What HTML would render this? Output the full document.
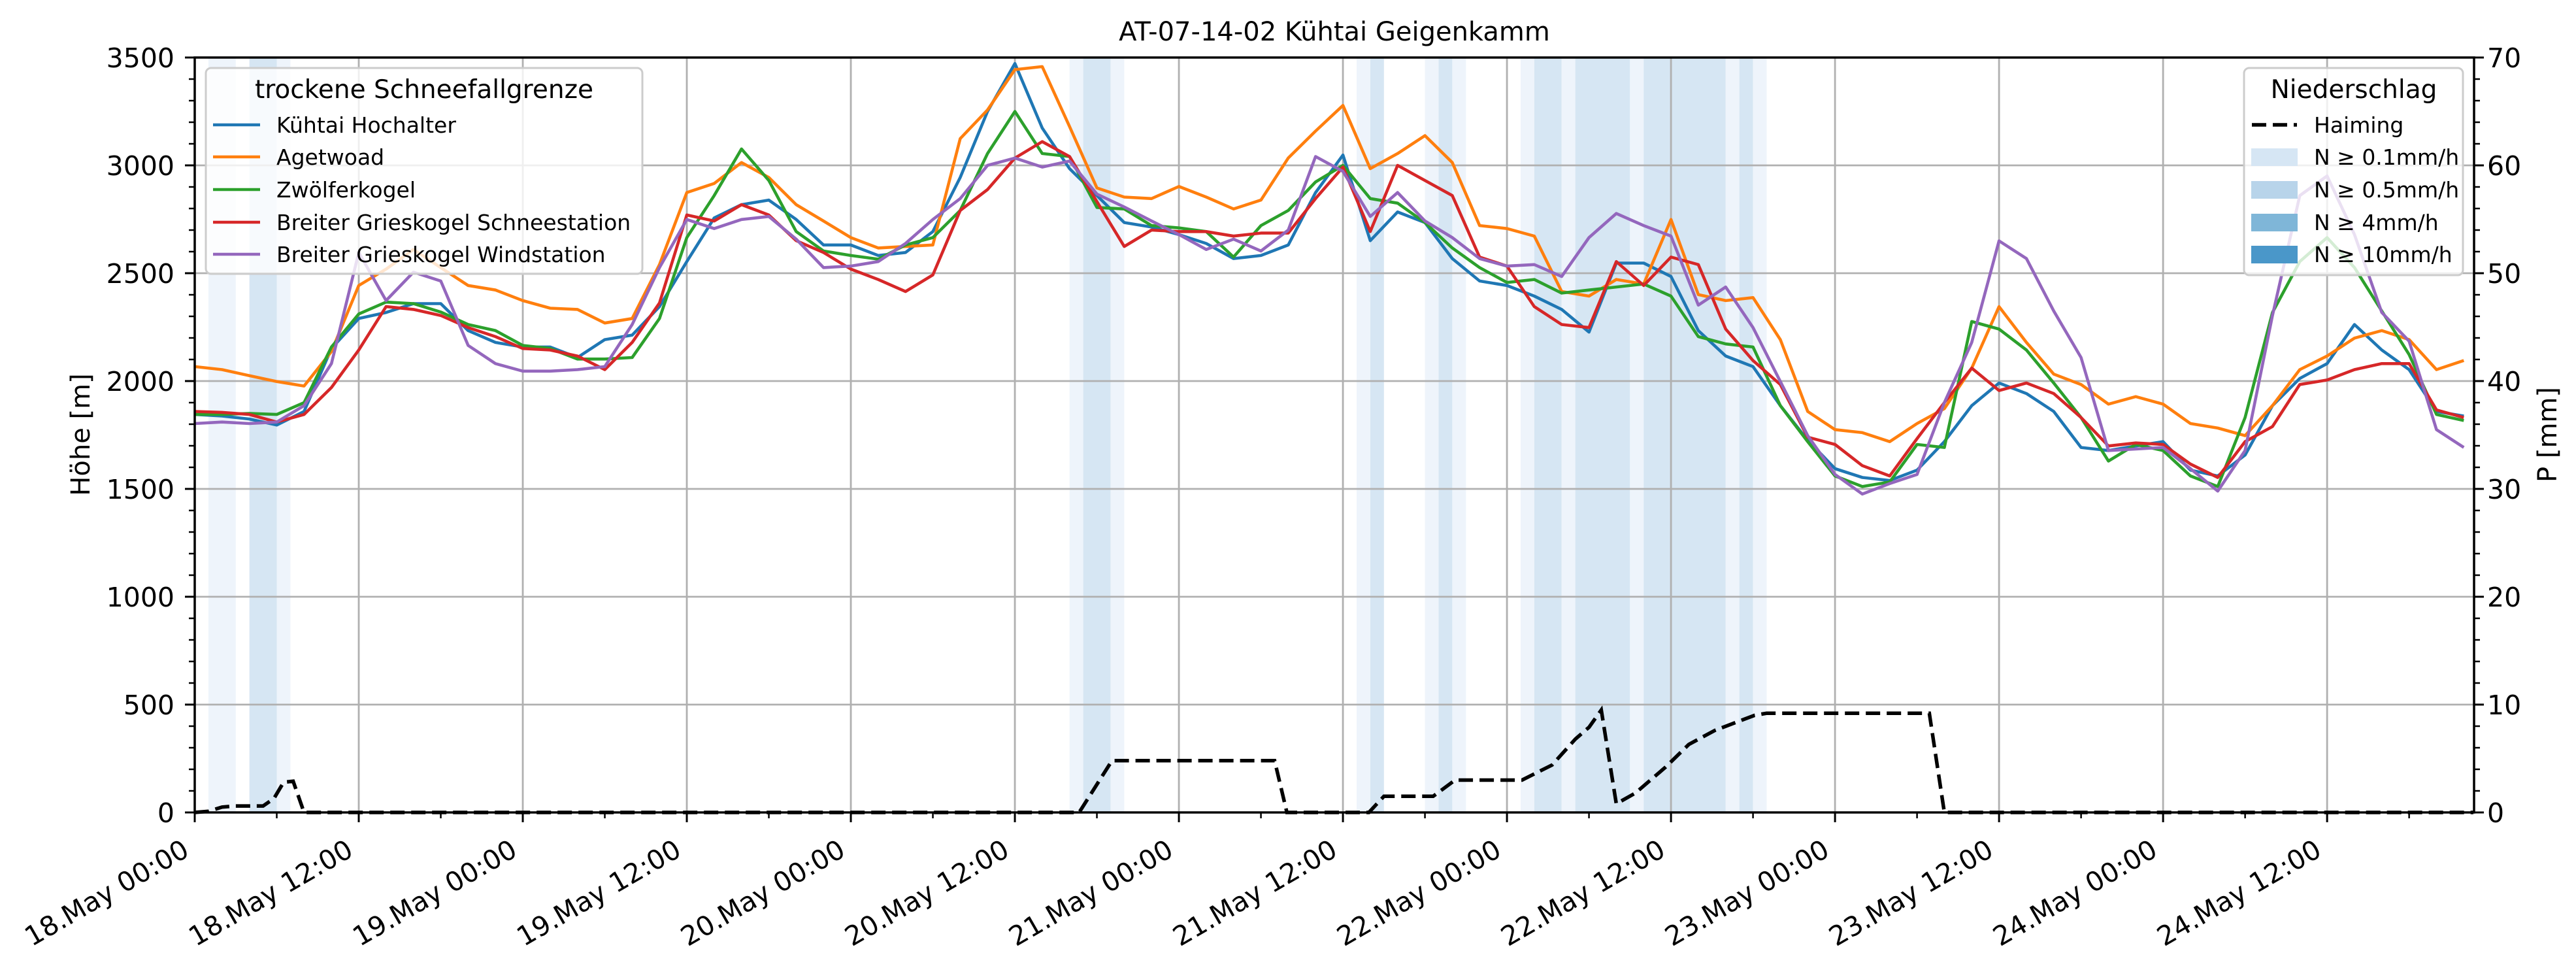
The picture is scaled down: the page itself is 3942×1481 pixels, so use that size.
<!DOCTYPE html>
<html><head><meta charset="utf-8"><style>
html,body{margin:0;padding:0;background:#fff;}
svg{display:block;font-family:"DejaVu Sans","Liberation Sans",sans-serif;}
</style></head><body>
<svg id="chart" xmlns="http://www.w3.org/2000/svg" width="3942" height="1481" viewBox="0 0 3942 1481">
<rect x="0" y="0" width="3942" height="1481" fill="#fff"/>
<g id="bands"></g>
<g id="grid"></g>
<g id="lines"></g>
<g id="axes"></g>
<text x="2042" y="62" font-size="40" text-anchor="middle">AT-07-14-02 Kühtai Geigenkamm</text>
<text transform="translate(137,665) rotate(-90)" font-size="40" text-anchor="middle">Höhe [m]</text>
<text transform="translate(3912,665) rotate(-90)" font-size="40" text-anchor="middle">P [mm]</text>

<g>
<rect x="315" y="104" width="668" height="315" rx="8" fill="#fff" fill-opacity="0.8" stroke="#cccccc" stroke-width="3"/>
<text x="649" y="150" font-size="39" text-anchor="middle">trockene Schneefallgrenze</text>
<line x1="326" y1="191" x2="398" y2="191" stroke="#1f77b4" stroke-width="4.5"/>
<text x="423" y="203" font-size="33">Kühtai Hochalter</text>
<line x1="326" y1="240" x2="398" y2="240" stroke="#ff7f0e" stroke-width="4.5"/>
<text x="423" y="252" font-size="33">Agetwoad</text>
<line x1="326" y1="290" x2="398" y2="290" stroke="#2ca02c" stroke-width="4.5"/>
<text x="423" y="302" font-size="33">Zwölferkogel</text>
<line x1="326" y1="340" x2="398" y2="340" stroke="#d62728" stroke-width="4.5"/>
<text x="423" y="352" font-size="33">Breiter Grieskogel Schneestation</text>
<line x1="326" y1="389" x2="398" y2="389" stroke="#9467bd" stroke-width="4.5"/>
<text x="423" y="401" font-size="33">Breiter Grieskogel Windstation</text>
</g>

<g>
<rect x="3434" y="104" width="335" height="317" rx="8" fill="#fff" fill-opacity="0.8" stroke="#cccccc" stroke-width="3"/>
<text x="3602" y="150" font-size="39" text-anchor="middle">Niederschlag</text>
<line x1="3446" y1="191" x2="3515" y2="191" stroke="#000" stroke-width="5.5" stroke-dasharray="22,10"/>
<text x="3541" y="203" font-size="33">Haiming</text>
<rect x="3445" y="227" width="71" height="27" fill="#d6e6f4"/>
<text x="3541" y="252" font-size="33">N ≥ 0.1mm/h</text>
<rect x="3445" y="277" width="71" height="27" fill="#b8d4ea"/>
<text x="3541" y="302" font-size="33">N ≥ 0.5mm/h</text>
<rect x="3445" y="327" width="71" height="27" fill="#7fb6d8"/>
<text x="3541" y="352" font-size="33">N ≥ 4mm/h</text>
<rect x="3445" y="376" width="71" height="27" fill="#4a97c9"/>
<text x="3541" y="401" font-size="33">N ≥ 10mm/h</text>
</g>
</svg>
<script>
// ---- data ----
const hours = [];
for (let h = 0; h <= 166; h += 2) hours.push(h);
const hochalter = [1845,1838,1824,1796,1859,2151,2290,2318,2359,2359,2234,2179,2158,2158,2109,2192,2213,2345,2554,2756,2818,2839,
2749,2631,2631,2582,2596,2693,2944,3250,3472,3173,2985,2860,2735,2714,2679,2638,2568,2582,2631,2874,3048,
2651,2784,2735,2568,2464,2443,2394,2332,2227,2547,2547,2485,2234,2116,2067,1886,1726,1594,1553,1539,
1587,1719,1886,1991,1942,1859,1692,1678,1699,1719,1587,1560,1657,1886,2012,2081,2262,2144,2053,1859,1838];
const agetwoad = [2067,2053,2025,1998,1977,2137,2443,2519,2610,2526,2443,2422,2373,2338,2332,2269,2290,2540,2874,2916,3013,2944,
2818,2742,2665,2617,2624,2631,3124,3257,3444,3458,3180,2895,2853,2846,2902,2853,2798,2839,3034,3159,3278,
2985,3055,3138,3013,2721,2707,2672,2415,2394,2471,2450,2749,2401,2373,2387,2192,1859,1775,1761,1719,
1803,1872,2060,2345,2179,2032,1984,1893,1928,1893,1803,1782,1747,1886,2053,2116,2199,2234,2192,2053,2095];
const zwoelferkogel = [1845,1845,1850,1845,1900,2158,2311,2366,2359,2320,2262,2234,2165,2151,2102,2102,2109,2290,2665,2860,3076,2930,
2693,2603,2582,2565,2631,2665,2791,3055,3250,3055,3041,2805,2798,2721,2710,2693,2575,2721,2791,2923,3000,
2846,2825,2735,2617,2526,2457,2471,2408,2422,2436,2450,2394,2206,2172,2158,1886,1719,1560,1511,1532,
1706,1692,2276,2241,2144,1991,1831,1629,1706,1678,1560,1511,1831,2318,2554,2665,2526,2325,2123,1845,1817];
const schneestation = [1859,1855,1845,1810,1845,1970,2144,2345,2332,2304,2248,2206,2151,2144,2116,2053,2179,2362,2770,2742,2818,2770,
2651,2596,2519,2471,2415,2492,2791,2888,3034,3110,3041,2832,2624,2700,2693,2693,2672,2686,2686,2846,2992,
2693,3000,2930,2860,2575,2533,2345,2262,2248,2554,2443,2575,2540,2241,2095,1984,1740,1706,1608,1560,
1733,1900,2060,1956,1991,1942,1831,1699,1713,1706,1615,1553,1719,1789,1984,2005,2053,2081,2081,1866,1831];
const windstation = [1803,1810,1803,1810,1886,2081,2596,2373,2505,2464,2165,2081,2046,2046,2053,2067,2262,2526,2749,2707,2749,2763,
2658,2526,2533,2554,2638,2749,2846,3000,3034,2992,3020,2867,2807,2742,2679,2610,2658,2603,2700,3041,2972,
2763,2874,2742,2665,2568,2533,2540,2485,2665,2777,2721,2672,2352,2436,2248,1998,1747,1567,1476,1525,
1567,1900,2179,2650,2568,2325,2109,1678,1685,1692,1594,1490,1678,2304,2860,2951,2679,2318,2185,1775,1692];
const precipHours = [0,1,2,3,5,5.8,6.5,7.2,8,64.7,67.1,79,79.9,85.9,87,90.6,92.2,97.1,99.3,101,102,102.9,104,105.4,107.6,109.3,111.2,114.1,115,126.9,128,166.7];
const precipValues = [0,0.1,0.5,0.6,0.6,1.3,2.8,2.9,0,0,4.8,4.8,0,0,1.5,1.5,3.0,3.0,4.4,6.8,7.9,9.5,0.8,1.8,4.2,6.3,7.6,9.0,9.2,9.2,0,0];
const bandStart = [1,4,6,64,65,67,85,86,90,91,92,97,98,100,101,105,106,112,113,114];
const bandEnd   = [3,6,7,65,67,68,86,87,91,92,93,98,100,101,105,106,112,113,114,115];
const bandLevel = [0,1,0,0,1,0,0,1,0,1,0,0,1,0,1,0,1,0,1,0];
const yTicks = [0,500,1000,1500,2000,2500,3000,3500];
const y2Ticks = [0,10,20,30,40,50,60,70];
const xTickHours = [0,12,24,36,48,60,72,84,96,108,120,132,144,156];
const xTickLabels = ["18.May 00:00","18.May 12:00","19.May 00:00","19.May 12:00","20.May 00:00","20.May 12:00","21.May 00:00","21.May 12:00","22.May 00:00","22.May 12:00","23.May 00:00","23.May 12:00","24.May 00:00","24.May 12:00"];

// ---- axes ----
const L = 298, R = 3786, T = 88, B = 1243, HMAX = 166.75;
const xs = h => L + (R - L) * h / HMAX;
const ys = v => B - (B - T) * v / 3500;
const yp = p => B - (B - T) * p / 70;
const NS = "http://www.w3.org/2000/svg";
function mk(parent, tag, attrs) {
  const e = document.createElementNS(NS, tag);
  for (const k in attrs) e.setAttribute(k, attrs[k]);
  parent.appendChild(e);
  return e;
}
const gB = document.getElementById('bands'), gG = document.getElementById('grid'),
      gL = document.getElementById('lines'), gA = document.getElementById('axes');
const bandColors = ['#eef4fb', '#d6e6f3'];
bandStart.forEach((s, i) => {
  const r = mk(gB, 'rect', {x: xs(s), y: T, width: xs(bandEnd[i]) - xs(s), height: B - T, fill: bandColors[bandLevel[i]]});
  
  
});
xTickHours.forEach(h => {
  const l = mk(gG, 'line', {x1: xs(h), x2: xs(h), y1: T, y2: B, stroke: '#b0b0b0', 'stroke-width': 2.8});
  
  
});
yTicks.forEach(v => {
  const l = mk(gG, 'line', {x1: L, x2: R, y1: ys(v), y2: ys(v), stroke: '#b0b0b0', 'stroke-width': 2.8});
  
  
});
{
  const d = precipHours.map((h, i) => (i ? 'L' : 'M') + xs(h).toFixed(1) + ',' + yp(precipValues[i]).toFixed(1)).join('');
  const p = mk(gL, 'path', {d: d, fill: 'none', stroke: '#000', 'stroke-width': 5.5, 'stroke-dasharray': '22,10'});
  
  
}
const series = [[hochalter, '#1f77b4', 'hochalter-line'], [agetwoad, '#ff7f0e', 'agetwoad-line'], [zwoelferkogel, '#2ca02c', 'zwoelferkogel-line'], [schneestation, '#d62728', 'schneestation-line'], [windstation, '#9467bd', 'windstation-line']];
series.forEach(s => {
  const d = hours.map((h, i) => (i ? 'L' : 'M') + xs(h).toFixed(1) + ',' + ys(s[0][i]).toFixed(1)).join('');
  const p = mk(gL, 'path', {d: d, fill: 'none', stroke: s[1], 'stroke-width': 4.6, 'stroke-linejoin': 'round'});
  
  
});
const fr = mk(gA, 'rect', {x: L, y: T, width: R - L, height: B - T, fill: 'none', stroke: '#000', 'stroke-width': 3.5});


for (let v = 0; v <= 3500; v += 100) {
  const major = v % 500 === 0;
  const t = mk(gA, 'line', {x1: L - (major ? 15 : 9), x2: L, y1: ys(v), y2: ys(v), stroke: '#000', 'stroke-width': major ? 3 : 2.5});
  
  
}
yTicks.forEach(v => {
  const t = mk(gA, 'text', {x: 267, y: ys(v) + 15, 'font-size': 41, 'text-anchor': 'end'});
  t.textContent = v;
  
  
});
for (let p = 0; p <= 70; p += 2) {
  const major = p % 10 === 0;
  const t = mk(gA, 'line', {x1: R, x2: R + (major ? 15 : 9), y1: yp(p), y2: yp(p), stroke: '#000', 'stroke-width': major ? 3 : 2.5});
  
  
}
y2Ticks.forEach(p => {
  const t = mk(gA, 'text', {x: 3806, y: yp(p) + 15, 'font-size': 41});
  t.textContent = p;
  
  
});
for (let h = 0; h <= HMAX; h += 6) {
  const major = h % 12 === 0;
  const t = mk(gA, 'line', {x1: xs(h), x2: xs(h), y1: B, y2: B + (major ? 15 : 9), stroke: '#000', 'stroke-width': major ? 3 : 2.5});
  
  
}
xTickHours.forEach((h, i) => {
  const t = mk(gA, 'text', {transform: 'translate(' + (xs(h) - 6) + ',1308) rotate(-30)', 'font-size': 41, 'text-anchor': 'end'});
  t.textContent = xTickLabels[i];
  
  
});
</script>
</body></html>
